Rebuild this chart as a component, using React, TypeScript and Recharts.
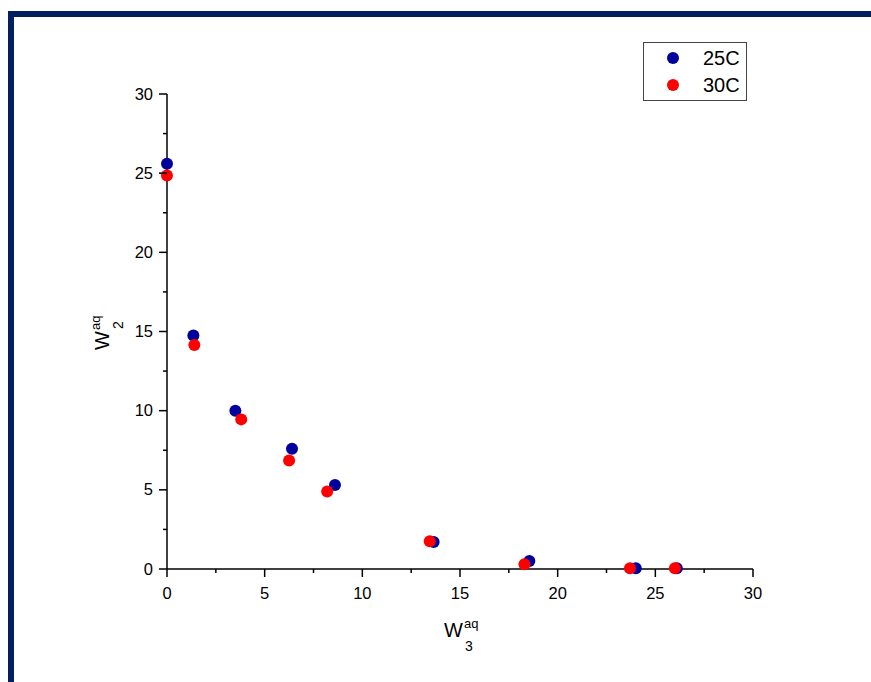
import { ScatterChart, Scatter, XAxis, YAxis } from "recharts";

const x25 = [0, 1.35, 3.5, 6.4, 8.6, 13.65, 18.55, 24.0, 26.1];
const y25 = [25.6, 14.75, 10.0, 7.6, 5.3, 1.7, 0.5, 0.05, 0.05];
const x30 = [0, 1.4, 3.8, 6.25, 8.2, 13.45, 18.3, 23.7, 26.0];
const y30 = [24.85, 14.15, 9.45, 6.85, 4.9, 1.75, 0.3, 0.05, 0.05];
const axisTicks = [0, 2.5, 5, 7.5, 10, 12.5, 15, 17.5, 20, 22.5, 25, 27.5, 30];
const seriesNames = ["25C", "30C"];

const BLUE = "#00009c";
const RED = "#ff0000";
const FRAME = "#002060";
const FONT = "'Liberation Sans', Arial, sans-serif";

const data25 = x25.map((x, i) => ({ x, y: y25[i] }));
const data30 = x30.map((x, i) => ({ x, y: y30[i] }));

const isMajor = (v: number) => v % 5 === 0;

function XTick({ x, y, payload }: any) {
  const major = isMajor(payload.value);
  return (
    <g>
      <line x1={x} x2={x} y1={y} y2={y + (major ? 8 : 4)} stroke="#000" strokeWidth={1.5} />
      {major && (
        <text x={x} y={y + 30} textAnchor="middle" fontSize={16.5} fontFamily={FONT} fill="#000">
          {payload.value}
        </text>
      )}
    </g>
  );
}

function YTick({ x, y, payload }: any) {
  const major = isMajor(payload.value);
  return (
    <g>
      <line x1={x} x2={x - (major ? 8 : 4)} y1={y} y2={y} stroke="#000" strokeWidth={1.5} />
      {major && (
        <text x={x - 14} y={y + 5.5} textAnchor="end" fontSize={16.5} fontFamily={FONT} fill="#000">
          {payload.value}
        </text>
      )}
    </g>
  );
}

const dot = (color: string) => (props: any) => <circle cx={props.cx} cy={props.cy} r={6} fill={color} />;

function LegendBox() {
  const colors = [BLUE, RED];
  return (
    <div
      style={{
        position: "absolute",
        left: 643,
        top: 42,
        width: 102,
        height: 57,
        border: "1px solid #444",
        background: "#fff",
        fontFamily: FONT,
      }}
    >
      {seriesNames.map((n, i) => (
        <div key={n} style={{ position: "absolute", left: 0, top: 3 + i * 27, height: 24, width: 102 }}>
          <span
            style={{
              position: "absolute",
              left: 23,
              top: 6,
              width: 12,
              height: 12,
              borderRadius: 6,
              background: colors[i],
            }}
          />
          <span style={{ position: "absolute", left: 59, top: 0, fontSize: 20, lineHeight: "24px", color: "#000" }}>
            {n}
          </span>
        </div>
      ))}
    </div>
  );
}

function AxisTitle({ x, y, sub, rotate }: { x: number; y: number; sub: string; rotate?: boolean }) {
  return (
    <g transform={`translate(${x},${y})${rotate ? " rotate(-90)" : ""}`} fontFamily={FONT} fill="#000">
      <text x={0} y={0} fontSize={20}>W</text>
      <text x={20} y={-9} fontSize={13}>aq</text>
      <text x={21} y={14} fontSize={14}>{sub}</text>
    </g>
  );
}

export default function App() {
  return (
    <div style={{ position: "absolute", left: 0, top: 0, width: 871, height: 682, background: "#fff", overflow: "hidden" }}>
      <div style={{ position: "absolute", left: 8, top: 11, width: 863, height: 6, background: FRAME }} />
      <div style={{ position: "absolute", left: 8, top: 11, width: 6, height: 671, background: FRAME }} />
      <ScatterChart width={871} height={682} margin={{ top: 94, right: 118, left: 0, bottom: 0 }}>
        <XAxis
          type="number"
          dataKey="x"
          domain={[0, 30]}
          ticks={axisTicks}
          interval={0}
          height={113}
          tickSize={0}
          tickMargin={0}
          tick={XTick}
          axisLine={{ stroke: "#000", strokeWidth: 1.5 }}
        />
        <YAxis
          type="number"
          dataKey="y"
          domain={[0, 30]}
          ticks={axisTicks}
          interval={0}
          width={167}
          tickSize={0}
          tickMargin={0}
          tick={YTick}
          axisLine={{ stroke: "#000", strokeWidth: 1.5 }}
        />
        <Scatter name={seriesNames[0]} data={data25} fill={BLUE} shape={dot(BLUE)} isAnimationActive={false} />
        <Scatter name={seriesNames[1]} data={data30} fill={RED} shape={dot(RED)} isAnimationActive={false} />
      </ScatterChart>
      <LegendBox />
      <svg width={871} height={682} style={{ position: "absolute", left: 0, top: 0, pointerEvents: "none" }}>
        <AxisTitle x={444} y={637} sub="3" />
        <AxisTitle x={109} y={350} sub="2" rotate />
      </svg>
    </div>
  );
}
